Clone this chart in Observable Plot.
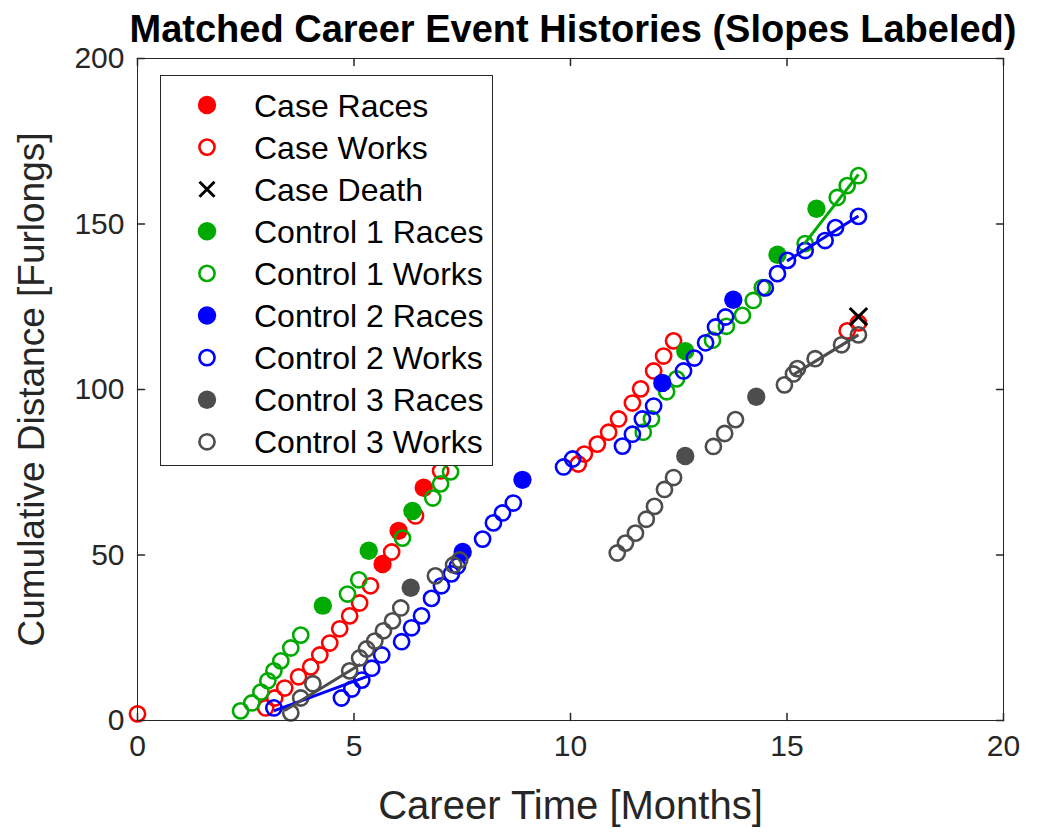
<!DOCTYPE html>
<html>
<head>
<meta charset="utf-8">
<script src="https://cdn.jsdelivr.net/npm/d3@7"></script>
<script src="https://cdn.jsdelivr.net/npm/@observablehq/plot@0.6"></script>
<style>
  body { margin: 0; background: #fff; }
  #wrap { position: relative; width: 1052px; height: 833px; }
  #wrap > svg { position: absolute; left: 0; top: 0; }
  g[aria-label="x-axis label"] text { font-size: 40px; }
  g[aria-label="y-axis label"] text { font-size: 37px; }
</style>
</head>
<body>
<div id="wrap"></div>
<script>
// ---------- data ----------
const titleText = "Matched Career Event Histories (Slopes Labeled)";
const xLabel = "Career Time [Months]";
const yLabel = "Cumulative Distance [Furlongs]";
const xTicks = [0, 5, 10, 15, 20];
const yTicks = [0, 50, 100, 150, 200];

const caseRacesT = [5.66, 6.03, 6.61];
const caseRacesD = [47.3, 57.3, 70.3];
const caseWorksT = [0, 2.96, 3.17, 3.40, 3.72, 4.00, 4.21, 4.44, 4.67, 4.90, 5.13, 5.38, 5.87, 6.42, 7.00, 10.18, 10.32, 10.62, 10.88, 11.11, 11.43, 11.62, 11.92, 12.15, 12.38, 16.39, 16.65];
const caseWorksD = [2.0, 3.8, 6.8, 9.8, 13.2, 16.2, 19.8, 23.4, 27.7, 31.6, 35.5, 40.7, 50.9, 61.8, 75.4, 77.5, 80.5, 83.5, 87.1, 91.1, 95.9, 100.2, 105.6, 110.1, 114.7, 117.7, 120.1];
const caseDeathT = [16.65];
const caseDeathD = [122.0];

const ctl1RacesT = [4.28, 5.34, 6.35, 12.65, 14.78, 15.68];
const ctl1RacesD = [34.7, 51.3, 63.3, 111.6, 140.7, 154.6];
const ctl1WorksT = [2.38, 2.64, 2.85, 3.01, 3.15, 3.31, 3.54, 3.77, 4.85, 5.11, 6.12, 6.82, 7.00, 7.23, 11.68, 11.87, 12.22, 12.45, 13.28, 13.60, 13.97, 14.22, 14.43, 15.42, 16.16, 16.39, 16.65];
const ctl1WorksD = [2.9, 5.3, 8.6, 12.0, 15.0, 18.0, 21.9, 25.8, 38.2, 42.5, 55.1, 67.2, 71.5, 75.1, 87.1, 91.1, 99.3, 103.2, 114.9, 119.1, 122.4, 126.9, 130.8, 144.1, 158.0, 161.6, 164.6];

const ctl2RacesT = [7.51, 8.89, 12.12, 13.76];
const ctl2RacesD = [50.9, 72.7, 102.0, 127.1];
const ctl2WorksT = [3.15, 4.71, 4.95, 5.18, 5.41, 5.64, 6.10, 6.33, 6.56, 6.79, 7.02, 7.25, 7.39, 7.97, 8.22, 8.43, 8.68, 9.84, 10.05, 11.20, 11.43, 11.66, 11.92, 12.61, 12.86, 13.12, 13.35, 13.58, 14.50, 14.78, 15.01, 15.42, 15.88, 16.12, 16.65];
const ctl2WorksD = [3.8, 6.8, 9.5, 12.2, 15.8, 19.8, 23.8, 28.0, 31.6, 36.9, 40.7, 44.3, 46.7, 54.8, 59.7, 62.7, 65.7, 76.6, 79.0, 82.9, 86.5, 91.1, 95.0, 105.6, 109.5, 114.1, 118.9, 121.9, 130.7, 135.0, 139.0, 142.0, 145.0, 148.9, 152.3];

const ctl3RacesT = [6.31, 12.65, 14.29];
const ctl3RacesD = [40.1, 79.9, 97.8];
const ctl3WorksT = [3.54, 3.77, 4.05, 4.90, 5.13, 5.29, 5.48, 5.68, 5.89, 6.08, 6.88, 7.30, 7.44, 11.08, 11.27, 11.50, 11.75, 11.94, 12.17, 12.38, 13.30, 13.56, 13.81, 14.94, 15.15, 15.24, 15.65, 16.26, 16.65];
const ctl3WorksD = [2.3, 6.8, 11.1, 15.0, 18.9, 21.6, 24.0, 27.1, 30.1, 34.0, 43.7, 47.0, 48.5, 50.6, 53.6, 56.6, 60.8, 64.7, 69.8, 73.4, 82.8, 86.7, 90.9, 101.4, 104.7, 106.3, 109.3, 113.5, 116.5];

// fitted slope segments
const slopeSeries = ["Control 3", "Control 2", "Control 1", "Control 2", "Control 3"];
const slopeT0 = [3.40, 3.15, 15.40, 15.00, 15.15];
const slopeD0 = [3.0, 2.9, 144.0, 138.8, 104.5];
const slopeT1 = [5.15, 5.34, 16.65, 16.65, 16.65];
const slopeD1 = [17.0, 13.5, 165.0, 152.4, 116.5];

const legendLabels = ["Case Races", "Case Works", "Case Death", "Control 1 Races", "Control 1 Works", "Control 2 Races", "Control 2 Works", "Control 3 Races", "Control 3 Works"];
const legendKinds  = ["filled", "open", "x", "filled", "open", "filled", "open", "filled", "open"];
const legendColors = ["#ff0000", "#ff0000", "#000000", "#00aa00", "#00aa00", "#0000ff", "#0000ff", "#4d4d4d", "#4d4d4d"];

// ---------- build ----------
const colorOf = {"Case": "#ff0000", "Control 1": "#00aa00", "Control 2": "#0000ff", "Control 3": "#4d4d4d"};
const pts = (T, D) => T.map((t, i) => ({t, d: D[i]}));
const slopes = slopeSeries.map((s, i) => ({series: s, t0: slopeT0[i], d0: slopeD0[i], t1: slopeT1[i], d1: slopeD1[i]}));

const axisColor = "#262626";
const openR = 7.6, openW = 2.6, fillR = 9.2;
const tickShape = {draw(context, l) { context.moveTo(0, 0); context.lineTo(0, -l); }};

const filled = (T, D, c) => Plot.dot(pts(T, D), {x: "t", y: "d", r: fillR, fill: c, stroke: "none"});
const open = (T, D, c) => Plot.dot(pts(T, D), {x: "t", y: "d", r: openR, fill: "none", stroke: c, strokeWidth: openW});

const chart = Plot.plot({
  width: 1052,
  height: 833,
  marginLeft: 137,
  marginRight: 49,
  marginTop: 58,
  marginBottom: 113,
  style: {fontFamily: "'Liberation Sans', Arial, sans-serif", fontSize: "30px", color: axisColor, background: "transparent"},
  x: {domain: [0, 20]},
  y: {domain: [0, 200]},
  marks: [
    Plot.axisX({ticks: xTicks, tickSize: 0, tickPadding: 14, tickFormat: d3.format("d"), label: xLabel, labelAnchor: "center", labelOffset: 98, labelArrow: "none", fontSize: 30}),
    Plot.axisY({ticks: yTicks, tickSize: 0, tickPadding: 13, tickFormat: d3.format("d"), label: yLabel, labelAnchor: "center", labelOffset: 120, labelArrow: "none", fontSize: 30}),
    filled(caseRacesT, caseRacesD, colorOf["Case"]),
    open(caseWorksT, caseWorksD, colorOf["Case"]),
    Plot.dot(pts(caseDeathT, caseDeathD), {x: "t", y: "d", symbol: "times", r: 8, stroke: "#000", strokeWidth: 3}),
    filled(ctl1RacesT, ctl1RacesD, colorOf["Control 1"]),
    open(ctl1WorksT, ctl1WorksD, colorOf["Control 1"]),
    filled(ctl2RacesT, ctl2RacesD, colorOf["Control 2"]),
    open(ctl2WorksT, ctl2WorksD, colorOf["Control 2"]),
    filled(ctl3RacesT, ctl3RacesD, colorOf["Control 3"]),
    open(ctl3WorksT, ctl3WorksD, colorOf["Control 3"]),
    ...["Control 1", "Control 2", "Control 3"].map(s =>
      Plot.link(slopes.filter(d => d.series === s), {x1: "t0", y1: "d0", x2: "t1", y2: "d1", stroke: colorOf[s], strokeWidth: 3})),
    Plot.frame({stroke: axisColor, strokeWidth: 1}),
    Plot.vector(xTicks, {x: d => d, y: yTicks[0], length: 7, rotate: 0, anchor: "start", shape: tickShape, stroke: axisColor}),
    Plot.vector(xTicks, {x: d => d, y: yTicks[yTicks.length - 1], length: 7, rotate: 180, anchor: "start", shape: tickShape, stroke: axisColor}),
    Plot.vector(yTicks, {y: d => d, x: xTicks[0], length: 7, rotate: 90, anchor: "start", shape: tickShape, stroke: axisColor}),
    Plot.vector(yTicks, {y: d => d, x: xTicks[xTicks.length - 1], length: 7, rotate: -90, anchor: "start", shape: tickShape, stroke: axisColor})
  ]
});

const wrap = document.getElementById("wrap");
wrap.appendChild(chart);

// overlay: title and legend
const ov = d3.create("svg").attr("width", 1052).attr("height", 833)
  .style("font-family", "'Liberation Sans', Arial, sans-serif");
ov.append("text").attr("x", 573).attr("y", 42).attr("text-anchor", "middle")
  .attr("font-size", 38).attr("font-weight", "bold").attr("fill", "#000").text(titleText);

const lg = ov.append("g");
lg.append("rect").attr("x", 160.5).attr("y", 75.5).attr("width", 332).attr("height", 390)
  .attr("fill", "#fff").attr("stroke", axisColor).attr("stroke-width", 1);
legendLabels.forEach((lab, i) => {
  const cy = 105 + 42.1 * i, cx = 207, c = legendColors[i], k = legendKinds[i];
  if (k === "filled") lg.append("circle").attr("cx", cx).attr("cy", cy).attr("r", fillR).attr("fill", c);
  else if (k === "open") lg.append("circle").attr("cx", cx).attr("cy", cy).attr("r", openR).attr("fill", "none").attr("stroke", c).attr("stroke-width", openW);
  else lg.append("path").attr("d", `M${cx-7.5},${cy-7.5}L${cx+7.5},${cy+7.5}M${cx-7.5},${cy+7.5}L${cx+7.5},${cy-7.5}`).attr("stroke", c).attr("stroke-width", 3);
  lg.append("text").attr("x", 254).attr("y", cy).attr("dy", "0.36em").attr("font-size", 32).attr("fill", "#000").text(lab);
});
wrap.appendChild(ov.node());
</script>
</body>
</html>
